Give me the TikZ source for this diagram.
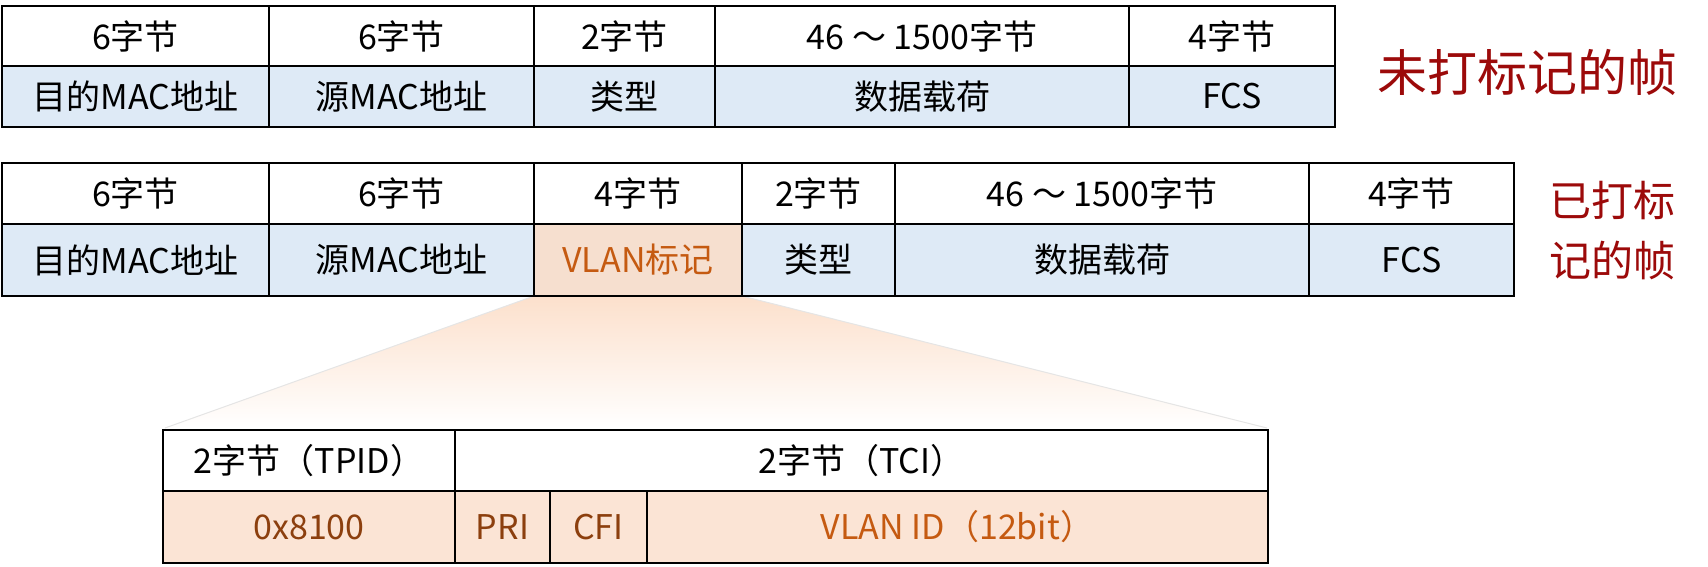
\documentclass[tikz,border=0pt]{standalone}
\usepackage{fontspec}
\setmainfont{Noto Sans CJK SC}
\definecolor{cellblue}{HTML}{DEEAF6}
\definecolor{cellpeach}{HTML}{FBE4D5}
\definecolor{tagpeach}{HTML}{F6DFCF}
\definecolor{orangetxt}{HTML}{C55A11}
\definecolor{browntxt}{HTML}{8C3F0E}
\definecolor{labelred}{HTML}{9C0A0A}
\definecolor{funnel}{HTML}{FCE0CC}
\tikzset{
  cell/.style={draw=black, line width=1.8pt, inner sep=0pt, font=\fontsize{34}{40}\selectfont},
  hdr/.style={cell, fill=white},
  blue/.style={cell, fill=cellblue},
  tag/.style={cell, fill=tagpeach, text=orangetxt},
  pk/.style={cell, fill=cellpeach, text=browntxt},
  pko/.style={cell, fill=cellpeach, text=orangetxt},
  lbl/.style={text=labelred, inner sep=0pt, align=center},
}
\begin{document}
\begin{tikzpicture}[x=1pt,y=-1pt]
\useasboundingbox (0,0) rectangle (1708,566);
% funnel
\coordinate (f1) at (534,296);
\coordinate (f2) at (742,296);
\coordinate (f3) at (1267,428);
\coordinate (f4) at (165,428);
\shade[top color=funnel, bottom color=white] (f1) -- (f2) -- (f3) -- (f4) -- cycle;
\draw[draw=black!10, line width=1pt] (f1) -- (f4) (f2) -- (f3);
% table 1
\node[hdr, minimum width=267, minimum height=60] (a1) at (135.5,36) {6字节};
\node[hdr, minimum width=265, minimum height=60] (a2) at (401.5,36) {6字节};
\node[hdr, minimum width=181, minimum height=60] (a3) at (624.5,36) {2字节};
\node[hdr, minimum width=414, minimum height=60] (a4) at (922,36) {46 ～ 1500字节};
\node[hdr, minimum width=206, minimum height=60] (a5) at (1232,36) {4字节};
\node[blue, minimum width=267, minimum height=61] (b1) at (135.5,96.5) {目的MAC地址};
\node[blue, minimum width=265, minimum height=61] (b2) at (401.5,96.5) {源MAC地址};
\node[blue, minimum width=181, minimum height=61] (b3) at (624.5,96.5) {类型};
\node[blue, minimum width=414, minimum height=61] (b4) at (922,96.5) {数据载荷};
\node[blue, minimum width=206, minimum height=61] (b5) at (1232,96.5) {FCS};
\node[lbl, font=\fontsize{50}{56}\selectfont] (l1) at (1527,72) {未打标记的帧};
% table 2
\node[hdr, minimum width=267, minimum height=61] (c1) at (135.5,193.5) {6字节};
\node[hdr, minimum width=265, minimum height=61] (c2) at (401.5,193.5) {6字节};
\node[hdr, minimum width=208, minimum height=61] (c3) at (638,193.5) {4字节};
\node[hdr, minimum width=153, minimum height=61] (c4) at (818.5,193.5) {2字节};
\node[hdr, minimum width=414, minimum height=61] (c5) at (1102,193.5) {46 ～ 1500字节};
\node[hdr, minimum width=205, minimum height=61] (c6) at (1411.5,193.5) {4字节};
\node[blue, minimum width=267, minimum height=72] (d1) at (135.5,260) {目的MAC地址};
\node[blue, minimum width=265, minimum height=72] (d2) at (401.5,260) {源MAC地址};
\node[tag, minimum width=208, minimum height=72] (d3) at (638,260) {VLAN标记};
\node[blue, minimum width=153, minimum height=72] (d4) at (818.5,260) {类型};
\node[blue, minimum width=414, minimum height=72] (d5) at (1102,260) {数据载荷};
\node[blue, minimum width=205, minimum height=72] (d6) at (1411.5,260) {FCS};
\node[lbl, font=\fontsize{42}{60}\selectfont] (l2) at (1612,231) {已打标\\记的帧};
% bottom table
\node[hdr, minimum width=292, minimum height=61] (e1) at (309,460.5) {2字节（TPID）};
\node[hdr, minimum width=813, minimum height=61] (e2) at (861.5,460.5) {2字节（TCI）};
\node[pk, minimum width=292, minimum height=72] (g1) at (309,527) {0x8100};
\node[pk, minimum width=95, minimum height=72] (g2) at (502.5,527) {PRI};
\node[pk, minimum width=97, minimum height=72] (g3) at (598.5,527) {CFI};
\node[pko, minimum width=621, minimum height=72] (g4) at (957.5,527) {VLAN ID（12bit）};
\end{tikzpicture}
\end{document}
